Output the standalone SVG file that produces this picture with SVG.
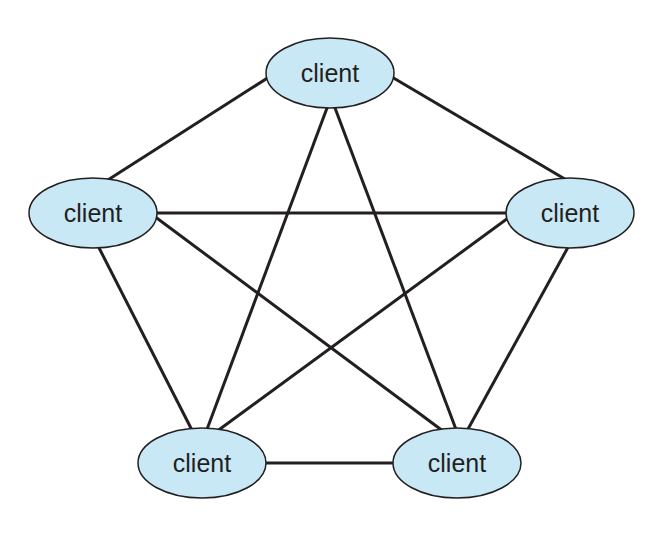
<svg xmlns="http://www.w3.org/2000/svg" width="663" height="534" viewBox="0 0 663 534">
<style>
.n ellipse{fill:#c8e8f6;stroke:#231f20;stroke-width:1.5}
.n text{font-family:"Liberation Sans",Arial,sans-serif;font-size:25px;fill:#231f20;text-anchor:middle}
#edges line{stroke:#231f20;stroke-width:3}
</style>
<rect width="663" height="534" fill="#fff"/>
<g id="edges">
<line x1="280" y1="70" x2="100" y2="185"/>
<line x1="380" y1="70" x2="575" y2="185"/>
<line x1="330" y1="100" x2="203" y2="440"/>
<line x1="332" y1="100" x2="460" y2="440"/>
<line x1="150" y1="213" x2="515" y2="213"/>
<line x1="150" y1="213" x2="455" y2="440"/>
<line x1="515" y1="213" x2="205" y2="440"/>
<line x1="95" y1="240" x2="197" y2="440"/>
<line x1="572" y1="240" x2="462" y2="440"/>
<line x1="250" y1="463" x2="410" y2="463"/>
</g>
<g id="n1" class="n"><ellipse cx="330" cy="73" rx="64" ry="35"/><text x="330" y="82">client</text></g>
<g id="n2" class="n"><ellipse cx="93" cy="213" rx="64" ry="35"/><text x="93" y="222">client</text></g>
<g id="n3" class="n"><ellipse cx="570" cy="213" rx="64" ry="35"/><text x="570" y="222">client</text></g>
<g id="n4" class="n"><ellipse cx="202" cy="463" rx="64" ry="35"/><text x="202" y="472">client</text></g>
<g id="n5" class="n"><ellipse cx="457" cy="463" rx="64" ry="35"/><text x="457" y="472">client</text></g>
</svg>
